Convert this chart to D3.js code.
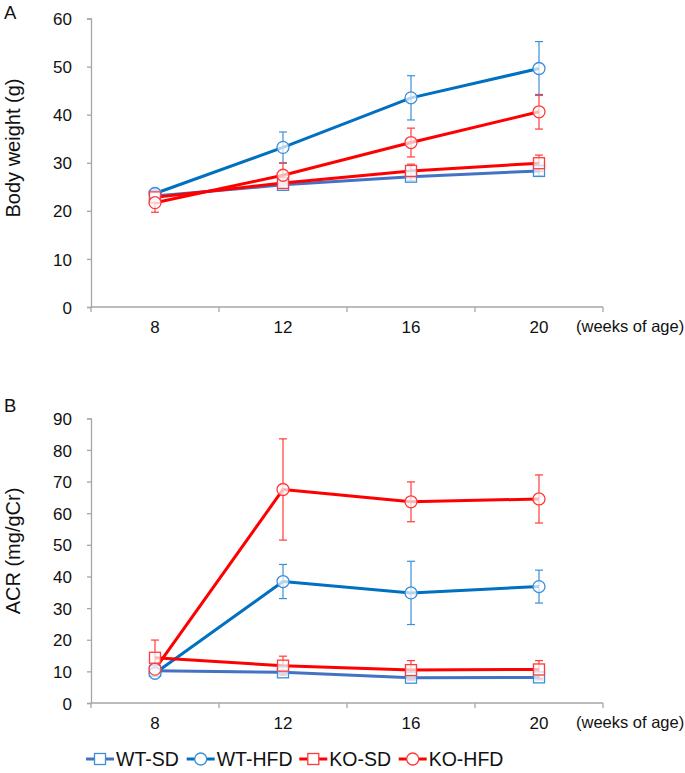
<!DOCTYPE html>
<html>
<head>
<meta charset="utf-8">
<script src="https://cdn.jsdelivr.net/npm/d3@7"></script>
<style>
  body { margin: 0; background: #fff; }
  svg { display: block; font-family: "Liberation Sans", Arial, sans-serif; }
</style>
</head>
<body>
<svg id="chart" width="685" height="773"></svg>
<script>
// ---- Data ----
const weeks = ["8", "12", "16", "20"];
const seriesNames = ["WT-SD", "WT-HFD", "KO-SD", "KO-HFD"];
const seriesShapes = ["square", "circle", "square", "circle"];

// Panel A: body weight (g)
const bwWTSD = [23.1, 25.4, 27.1, 28.3];
const bwWTSDerr = [0.8, 0.8, 0.8, 1.0];
const bwWTHFD = [23.6, 33.2, 43.5, 49.6];
const bwWTHFDerr = [1.0, 3.2, 4.6, 5.6];
const bwKOSD = [22.8, 25.8, 28.3, 29.9];
const bwKOSDerr = [1.0, 1.0, 1.4, 1.7];
const bwKOHFD = [21.7, 27.4, 34.2, 40.6];
const bwKOHFDerr = [2.0, 2.5, 3.0, 3.6];
const bwTicks = [0, 10, 20, 30, 40, 50, 60];

// Panel B: ACR (mg/gCr)
const acrWTSD = [10.2, 9.7, 8.0, 8.1];
const acrWTSDerr = [0.8, 0.8, 0.8, 0.8];
const acrWTHFD = [9.4, 38.4, 34.8, 36.8];
const acrWTHFDerr = [1.0, 5.4, 10.0, 5.2];
const acrKOSD = [14.3, 11.8, 10.4, 10.6];
const acrKOSDerr = [5.6, 3.0, 3.0, 2.8];
const acrKOHFD = [10.7, 67.5, 63.6, 64.5];
const acrKOHFDerr = [1.0, 16.0, 6.3, 7.6];
const acrTicks = [0, 10, 20, 30, 40, 50, 60, 70, 80, 90];

// ---- Styles ----
const lineColors = ["#4472C4", "#0070C0", "#FF0000", "#FF0000"];
const markColors = ["#3C8EDA", "#3C8EDA", "#FF3B3B", "#FF3B3B"];
const axisColor = "#A6A6A6";

const svg = d3.select("#chart");

function panel(opts) {
  const g = svg.append("g");
  const x = d3.scaleBand().domain(weeks).range([91, 603]).paddingInner(0).paddingOuter(0);
  const y = d3.scaleLinear().domain([0, opts.ymax]).range([opts.y0, opts.y1]);

  // y axis
  const yAxis = d3.axisLeft(y).tickValues(opts.ticks).tickSize(4).tickPadding(15);
  const ya = g.append("g").attr("transform", "translate(91,0)").call(yAxis);
  ya.select(".domain").attr("stroke", axisColor).attr("stroke-width", 1.3);
  ya.selectAll(".tick line").attr("stroke", axisColor).attr("stroke-width", 1.3);
  ya.selectAll(".tick text").attr("font-size", 17).attr("fill", "#111")
    .attr("font-family", "Liberation Sans, Arial, sans-serif").attr("dy", "0.36em");

  // x axis
  const xa = g.append("g").attr("transform", `translate(0,${opts.y0})`);
  xa.append("line").attr("x1", 91).attr("x2", 603).attr("y1", 0).attr("y2", 0)
    .attr("stroke", axisColor).attr("stroke-width", 1.3);
  const bounds = weeks.map(w => x(w)).concat([x(weeks[weeks.length - 1]) + x.bandwidth()]);
  xa.selectAll("line.tk").data(bounds).enter().append("line").attr("class", "tk")
    .attr("x1", d => d).attr("x2", d => d).attr("y1", 0).attr("y2", 5)
    .attr("stroke", axisColor).attr("stroke-width", 1.3);
  xa.selectAll("text.lab").data(weeks).enter().append("text").attr("class", "lab")
    .attr("x", d => x(d) + x.bandwidth() / 2).attr("y", 26)
    .attr("text-anchor", "middle").attr("font-size", 17).attr("fill", "#111").text(d => d);
  xa.append("text").attr("x", 576).attr("y", 25).attr("font-size", 16.5).attr("fill", "#111")
    .text("(weeks of age)");

  // titles
  g.append("text").attr("transform", `translate(20,${opts.titleY}) rotate(-90)`)
    .attr("text-anchor", "middle").attr("font-size", 20).attr("fill", "#111").text(opts.title);
  g.append("text").attr("x", 4).attr("y", opts.letterY).attr("font-size", 18.5).attr("fill", "#111").text(opts.letter);

  const cx = d => x(d) + x.bandwidth() / 2;
  const data = opts.series.map((vals, i) => vals.map((v, j) => ({ w: weeks[j], v, e: opts.errs[i][j] })));

  // error bars
  data.forEach((pts, i) => {
    const eg = g.append("g").attr("stroke", markColors[i]).attr("stroke-width", 1.2);
    pts.forEach(p => {
      const xc = cx(p.w);
      eg.append("line").attr("x1", xc).attr("x2", xc).attr("y1", y(p.v - p.e)).attr("y2", y(p.v + p.e));
      [p.v - p.e, p.v + p.e].forEach(t => {
        eg.append("line").attr("x1", xc - 4).attr("x2", xc + 4).attr("y1", y(t)).attr("y2", y(t));
      });
    });
  });

  // lines
  const line = d3.line().x(d => cx(d.w)).y(d => y(d.v));
  data.forEach((pts, i) => {
    g.append("path").datum(pts).attr("d", line).attr("fill", "none")
      .attr("stroke", lineColors[i]).attr("stroke-width", 3).attr("stroke-linejoin", "round");
  });

  // markers
  data.forEach((pts, i) => {
    pts.forEach(p => {
      drawMarker(g, seriesShapes[i], cx(p.w), y(p.v), markColors[i], 0.7);
    });
  });
}

function drawMarker(g, shape, xc, yc, color, op) {
  if (shape === "circle") {
    g.append("circle").attr("cx", xc).attr("cy", yc).attr("r", 6)
      .attr("fill", "#fff").attr("fill-opacity", op).attr("stroke", color).attr("stroke-width", 1.3);
  } else {
    g.append("rect").attr("x", xc - 5.5).attr("y", yc - 5.5).attr("width", 11).attr("height", 11)
      .attr("fill", "#fff").attr("fill-opacity", op).attr("stroke", color).attr("stroke-width", 1.3);
  }
}

panel({
  y0: 307, y1: 18.5, ymax: 60, ticks: bwTicks,
  title: "Body weight (g)", titleY: 148, letter: "A", letterY: 19,
  series: [bwWTSD, bwWTHFD, bwKOSD, bwKOHFD],
  errs: [bwWTSDerr, bwWTHFDerr, bwKOSDerr, bwKOHFDerr]
});

panel({
  y0: 703, y1: 418.3, ymax: 90, ticks: acrTicks,
  title: "ACR (mg/gCr)", titleY: 551, letter: "B", letterY: 412,
  series: [acrWTSD, acrWTHFD, acrKOSD, acrKOHFD],
  errs: [acrWTSDerr, acrWTHFDerr, acrKOSDerr, acrKOHFDerr]
});

// legend
const legendX = [86, 186.7, 299.3, 398.7];
const legY = 759;
const leg = svg.append("g");
seriesNames.forEach((name, i) => {
  const x0 = legendX[i];
  leg.append("line").attr("x1", x0).attr("x2", x0 + 28).attr("y1", legY).attr("y2", legY)
    .attr("stroke", lineColors[i]).attr("stroke-width", 3);
  drawMarker(leg, seriesShapes[i], x0 + 14, legY, markColors[i], 1);
  leg.append("text").attr("x", x0 + 30).attr("y", legY + 7).attr("font-size", 19.5).attr("fill", "#111").text(name);
});
</script>
</body>
</html>
